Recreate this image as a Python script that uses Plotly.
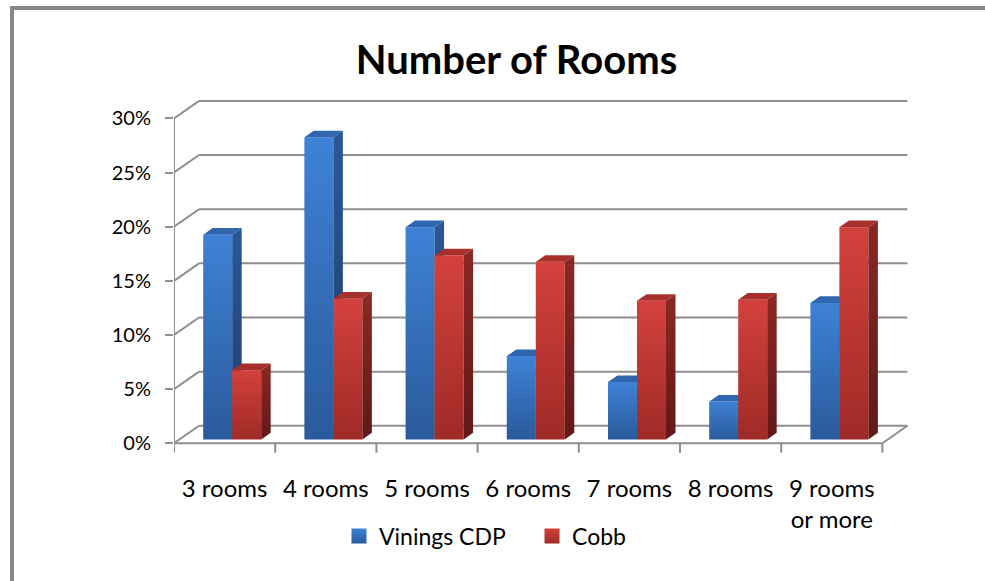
import plotly.graph_objects as go

# ---- data -------------------------------------------------------------
categories = ["3 rooms", "4 rooms", "5 rooms", "6 rooms", "7 rooms", "8 rooms", "9 rooms<br>or more"]
vinings_cdp = [18.9, 27.9, 19.6, 7.7, 5.3, 3.5, 12.6]
cobb = [6.4, 13.0, 17.0, 16.4, 12.8, 12.9, 19.6]
series_names = ["Vinings CDP", "Cobb"]
y_ticks = [0, 5, 10, 15, 20, 25, 30]

# ---- page / axis geometry ----------------------------------------------
W, H = 985, 581
ML, MR, MT, MB = 174, 75, 90, 121
PLOT_W = W - ML - MR
PLOT_H = H - MT - MB
PX_X = 101.2          # pixels per category on the front plane
PX_Y = 10.83          # pixels per percentage point
Y_ZERO_PX = 443.3     # pixel row of the front 0% line
X_MAX = PLOT_W / PX_X
Y_MAX = (Y_ZERO_PX - MT) / PX_Y
Y_MIN = -(H - MB - Y_ZERO_PX) / PX_Y

# oblique depth of the 3-D box, in data units
DX = 25 / PX_X
DY = 17.5 / PX_Y

# bar placement inside a category (data units) and depth fractions
BAR_W = 29 / PX_X
BAR_X0 = 0.234
F0, F1 = 0.22, 0.60

FONT = "Lato"
GRID = "#8e8e8e"

palette = [
    dict(front_top="#3e82d6", front_bot="#2a5a9b", side_top="#2a5897", side_bot="#1d3f6c", top="#2f66ae"),
    dict(front_top="#d4413c", front_bot="#9f2a27", side_top="#8b2825", side_bot="#611917", top="#a8302c"),
]


def proj(x, y, f):
    return x + f * DX, y + f * DY


def px_to_paper_x(px):
    return (px - ML) / PLOT_W


def px_to_paper_y(py):
    return (H - MB - py) / PLOT_H


def face(pts, color, grad=None):
    xs = [p[0] for p in pts] + [pts[0][0]]
    ys = [p[1] for p in pts] + [pts[0][1]]
    kw = {}
    if grad:
        kw["fillgradient"] = dict(type="vertical", colorscale=[[0, grad[0]], [1, grad[1]]])
    return go.Scatter(x=xs, y=ys, mode="lines", fill="toself", line=dict(width=0),
                      fillcolor=color, hoverinfo="skip", showlegend=False, **kw)


fig = go.Figure()

# ---- bars (front, right side and top faces) ---------------------------
for ci in range(len(categories)):
    for si, values in enumerate([vinings_cdp, cobb]):
        v = values[ci]
        c = palette[si]
        xl = ci + BAR_X0 + si * BAR_W
        xr = xl + BAR_W
        fig.add_trace(face([proj(xl, 0, F0), proj(xr, 0, F0), proj(xr, v, F0), proj(xl, v, F0)],
                           c["front_top"], (c["front_bot"], c["front_top"])))
        fig.add_trace(face([proj(xr, 0, F0), proj(xr, 0, F1), proj(xr, v, F1), proj(xr, v, F0)],
                           c["side_top"], (c["side_bot"], c["side_top"])))
        fig.add_trace(face([proj(xl, v, F0), proj(xr, v, F0), proj(xr, v, F1), proj(xl, v, F1)],
                           c["top"]))

# ---- legend entries -----------------------------------------------------
for si, name in enumerate(series_names):
    c = palette[si]
    fig.add_trace(go.Scatter(
        x=[None], y=[None], mode="markers", name=name,
        marker=dict(symbol="square", size=15, color=c["front_top"],
                    gradient=dict(type="vertical", color=c["front_bot"]),
                    line=dict(width=0))))

# ---- walls, floor and axis lines --------------------------------------
shapes = []
line = dict(color=GRID, width=2)
n = len(categories)
for t in y_ticks:
    bx, by = proj(0, t, 1)
    shapes.append(dict(type="line", xref="x", yref="y", x0=0, y0=t, x1=bx, y1=by, line=line, layer="below"))
    shapes.append(dict(type="line", xref="x", yref="y", x0=bx, y0=by, x1=n + DX, y1=by, line=line, layer="below"))
shapes.append(dict(type="line", xref="x", yref="y", x0=0, y0=0, x1=0, y1=y_ticks[-1], line=line, layer="below"))
shapes.append(dict(type="line", xref="x", yref="y", x0=0, y0=0, x1=n, y1=0, line=line, layer="below"))
rx, ry = proj(n, 0, 1)
shapes.append(dict(type="line", xref="x", yref="y", x0=n, y0=0, x1=rx, y1=ry, line=line, layer="below"))
tick_len = 9.4 / PX_Y
for i in range(n + 1):
    shapes.append(dict(type="line", xref="x", yref="y", x0=i, y0=0, x1=i, y1=-tick_len, line=line, layer="below"))

# outer frame (top and left edges) as thin filled strips
FRAME = "#878787"
shapes.append(dict(type="rect", xref="paper", yref="paper",
                   x0=px_to_paper_x(10), x1=px_to_paper_x(W),
                   y0=px_to_paper_y(10), y1=px_to_paper_y(6),
                   fillcolor=FRAME, line=dict(width=0)))
shapes.append(dict(type="rect", xref="paper", yref="paper",
                   x0=px_to_paper_x(10), x1=px_to_paper_x(14),
                   y0=px_to_paper_y(H), y1=px_to_paper_y(6),
                   fillcolor=FRAME, line=dict(width=0)))

fig.update_layout(
    width=W, height=H,
    margin=dict(l=ML, r=MR, t=MT, b=MB, pad=0, autoexpand=False),
    paper_bgcolor="white", plot_bgcolor="white",
    font=dict(family=FONT, size=24, color="black"),
    title=dict(text="<b>Number of Rooms</b>", font=dict(family=FONT, size=40, color="black"),
               x=516.5 / W, xref="container", xanchor="center",
               y=1 - 60 / H, yref="container", yanchor="middle"),
    xaxis=dict(range=[0, X_MAX], tickvals=[i + 0.5 for i in range(n)], ticktext=categories,
               ticks="", showgrid=False, zeroline=False, showline=False, ticklabelstandoff=12,
               automargin=False, fixedrange=True),
    yaxis=dict(range=[Y_MIN, Y_MAX], tickvals=y_ticks, ticktext=[f"{t}%" for t in y_ticks],
               ticks="outside", ticklen=8, tickwidth=2, tickcolor=GRID,
               tickfont=dict(family=FONT, size=20, color="black"),
               showgrid=False, zeroline=False, showline=False, ticklabelstandoff=10,
               automargin=False, fixedrange=True),
    legend=dict(orientation="h", xref="container", yref="container",
                x=339 / W, xanchor="left", y=1 - 536 / H, yanchor="middle",
                entrywidth=148, entrywidthmode="pixels",
                font=dict(family=FONT, size=23, color="black"), bgcolor="rgba(0,0,0,0)"),
    shapes=shapes,
)

fig.write_html(
    "out.html",
    post_script="document.documentElement.style.overflow='hidden';document.body.style.overflow='hidden';",
)
